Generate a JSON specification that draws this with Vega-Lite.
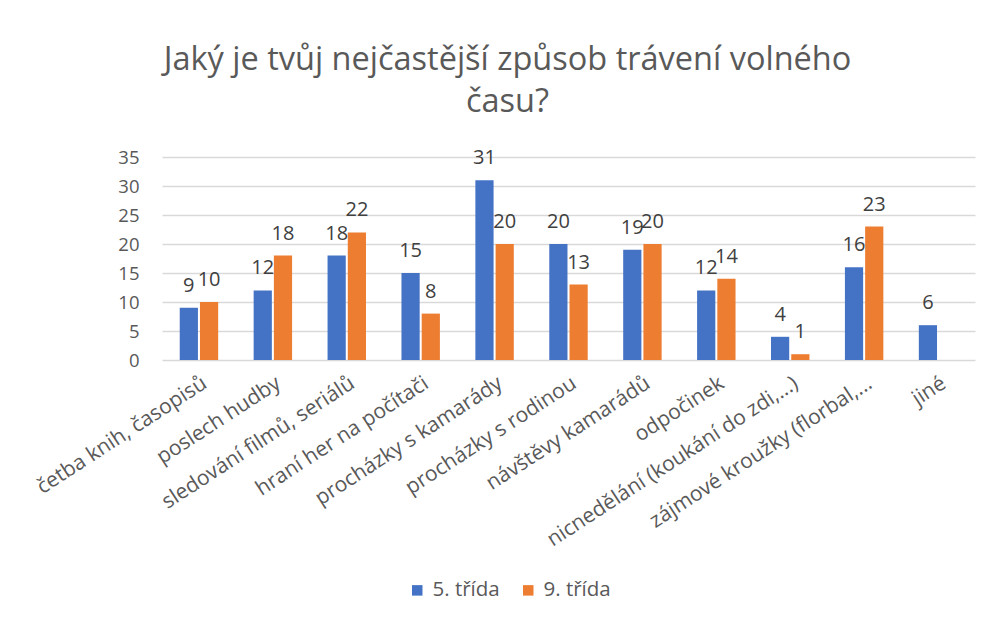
{
  "$schema": "https://vega.github.io/schema/vega-lite/v6.json",
  "width": 813,
  "height": 203,
  "autosize": {"type": "none"},
  "padding": {"left": 162, "top": 157, "right": 18, "bottom": 266},
  "background": "white",
  "title": {
    "text": ["Jaký je tvůj nejčastější způsob trávení volného", "času?"],
    "font": "Open Sans",
    "fontSize": 32.5,
    "fontWeight": "normal",
    "color": "#595959",
    "anchor": "middle",
    "frame": "group",
    "dx": -61,
    "offset": 30,
    "lineHeight": 42
  },
  "data": {
    "values": [
      {"kategorie": "četba knih, časopisů", "trida": "5. třída", "pocet": 9},
      {"kategorie": "četba knih, časopisů", "trida": "9. třída", "pocet": 10},
      {"kategorie": "poslech hudby", "trida": "5. třída", "pocet": 12},
      {"kategorie": "poslech hudby", "trida": "9. třída", "pocet": 18},
      {"kategorie": "sledování filmů, seriálů", "trida": "5. třída", "pocet": 18},
      {"kategorie": "sledování filmů, seriálů", "trida": "9. třída", "pocet": 22},
      {"kategorie": "hraní her na počítači", "trida": "5. třída", "pocet": 15},
      {"kategorie": "hraní her na počítači", "trida": "9. třída", "pocet": 8},
      {"kategorie": "procházky s kamarády", "trida": "5. třída", "pocet": 31},
      {"kategorie": "procházky s kamarády", "trida": "9. třída", "pocet": 20},
      {"kategorie": "procházky s rodinou", "trida": "5. třída", "pocet": 20},
      {"kategorie": "procházky s rodinou", "trida": "9. třída", "pocet": 13},
      {"kategorie": "návštěvy kamarádů", "trida": "5. třída", "pocet": 19},
      {"kategorie": "návštěvy kamarádů", "trida": "9. třída", "pocet": 20},
      {"kategorie": "odpočinek", "trida": "5. třída", "pocet": 12},
      {"kategorie": "odpočinek", "trida": "9. třída", "pocet": 14},
      {"kategorie": "nicnedělání (koukání do zdi,...)", "trida": "5. třída", "pocet": 4},
      {"kategorie": "nicnedělání (koukání do zdi,...)", "trida": "9. třída", "pocet": 1},
      {"kategorie": "zájmové kroužky (florbal,...", "trida": "5. třída", "pocet": 16},
      {"kategorie": "zájmové kroužky (florbal,...", "trida": "9. třída", "pocet": 23},
      {"kategorie": "jiné", "trida": "5. třída", "pocet": 6}
    ]
  },
  "encoding": {
    "x": {
      "field": "kategorie",
      "type": "nominal",
      "sort": null,
      "scale": {"paddingInner": 0.48, "paddingOuter": 0.24},
      "axis": {
        "title": null,
        "labelAngle": -33,
        "labelAlign": "right",
        "labelBaseline": "top",
        "labelFont": "Open Sans",
        "labelFontSize": 21,
        "labelColor": "#595959",
        "labelPadding": 12,
        "ticks": false,
        "domain": false,
        "grid": false,
        "labelLimit": 400,
        "labelOverlap": false
      }
    },
    "xOffset": {
      "field": "trida",
      "type": "nominal",
      "scale": {"domain": ["5. třída", "9. třída"], "paddingInner": 0.1}
    },
    "y": {
      "field": "pocet",
      "type": "quantitative",
      "scale": {"domain": [0, 35]},
      "axis": {
        "title": null,
        "values": [0, 5, 10, 15, 20, 25, 30, 35],
        "labelFont": "Open Sans",
        "labelFontSize": 18.5,
        "labelColor": "#595959",
        "labelPadding": 23,
        "ticks": false,
        "domain": false,
        "gridColor": "#d9d9d9",
        "gridWidth": 1.3
      }
    }
  },
  "layer": [
    {
      "mark": {"type": "bar"},
      "encoding": {
        "color": {
          "field": "trida",
          "type": "nominal",
          "scale": {"domain": ["5. třída", "9. třída"], "range": ["#4472C4", "#ED7D31"]},
          "legend": {
            "title": null,
            "orient": "none",
            "legendX": 245,
            "legendY": 423,
            "direction": "horizontal",
            "symbolType": "square",
            "symbolSize": 110,
            "symbolStrokeWidth": 0,
            "labelFont": "Open Sans",
            "labelFontSize": 20.5,
            "labelColor": "#595959",
            "labelOffset": 5,
            "columnPadding": 18
          }
        }
      }
    },
    {
      "mark": {"type": "text", "baseline": "bottom", "dy": -12, "font": "Open Sans", "fontSize": 20, "color": "#404040"},
      "encoding": {
        "text": {"field": "pocet", "type": "quantitative"}
      }
    }
  ],
  "config": {
    "view": {"stroke": null}
  }
}
